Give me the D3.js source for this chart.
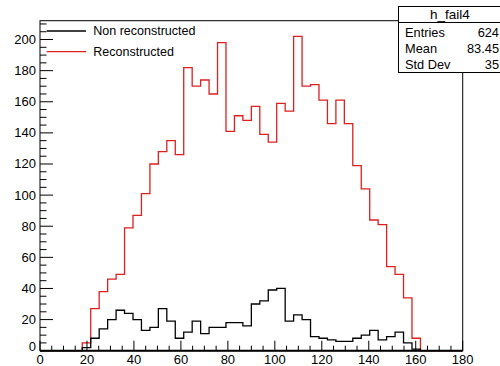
<!DOCTYPE html>
<html>
<head>
<meta charset="utf-8">
<script src="https://cdn.jsdelivr.net/npm/d3@7"></script>
<style>
  html, body { margin: 0; padding: 0; background: #fff; }
  svg { display: block; }
  text { font-family: "Liberation Sans", Arial, Helvetica, sans-serif; fill: #000; }
</style>
</head>
<body>
<svg id="chart" width="500" height="366"></svg>
<script>
// Histogram binning: 50 bins over [0, 180]
const xRange = [0, 180];
const nBins = 50;

// Bin contents
const nonReconstructed = [0, 0, 0, 0, 0, 2, 8, 14, 20, 26,
  24, 20, 13, 15, 27, 19, 8, 12, 19, 11,
  15, 15, 18, 18, 16, 30, 32, 39, 40, 19,
  23, 20, 9, 8, 7, 6, 6, 8, 10, 13,
  7, 9, 12, 5, 1, 0, 0, 0, 0, 0];
const reconstructed = [0, 0, 0, 0, 0, 5, 27, 38, 46, 49,
  79, 87, 101, 120, 128, 135, 126, 182, 170, 174,
  165, 198, 141, 151, 148, 157, 139, 134, 159, 154,
  202, 170, 171, 161, 146, 161, 146, 119, 104, 84,
  81, 54, 49, 34, 8, 0, 0, 0, 0, 0];

// Axis ticks
const xTicks = [0, 20, 40, 60, 80, 100, 120, 140, 160, 180];
const yTicks = [0, 20, 40, 60, 80, 100, 120, 140, 160, 180, 200];

// Legend and statistics box
const legendLabels = ["Non reconstructed", "Reconstructed"];
const legendColors = ["#000000", "#dd2020"];
const statsTitle = "h_fail4";
const statsLabels = ["Entries", "Mean", "Std Dev"];
const statsValues = ["624", "83.45", "35"];

const svg = d3.select("#chart");
const frame = { left: 40, right: 462.7, top: 20.7, bottom: 350.7 };

const yMax = d3.max(reconstructed) * 1.05;
const x = d3.scaleLinear().domain(xRange).range([frame.left, frame.right]);
const y = d3.scaleLinear().domain([0, yMax]).range([frame.bottom, frame.top]);
const binWidth = (xRange[1] - xRange[0]) / nBins;

// Frame
svg.append("rect")
  .attr("x", frame.left).attr("y", frame.top)
  .attr("width", frame.right - frame.left)
  .attr("height", frame.bottom - frame.top)
  .attr("fill", "none").attr("stroke", "#000").attr("stroke-width", 1);

// Step outlines of the histograms
function stepPoints(values) {
  const pts = values.map((v, i) => [xRange[0] + i * binWidth, v]);
  pts.push([xRange[1], values[values.length - 1]]);
  pts.push([xRange[1], 0]);
  return pts;
}
const stepLine = d3.line()
  .x(d => x(d[0])).y(d => y(d[1]))
  .curve(d3.curveStepAfter);

svg.append("path")
  .attr("d", stepLine(stepPoints(reconstructed)))
  .attr("fill", "none").attr("stroke", legendColors[1]).attr("stroke-width", 1.3);
svg.append("path")
  .attr("d", stepLine(stepPoints(nonReconstructed)))
  .attr("fill", "none").attr("stroke", legendColors[0]).attr("stroke-width", 1.3);

// Y axis: major ticks every 20, minor every 5
const yAxis = svg.append("g");
d3.range(0, yMax, 5).forEach(v => {
  const major = v % 20 === 0;
  yAxis.append("line")
    .attr("x1", frame.left).attr("x2", frame.left + (major ? 13 : 6.5))
    .attr("y1", y(v)).attr("y2", y(v))
    .attr("stroke", "#000").attr("stroke-width", 1);
});
yAxis.selectAll("text").data(yTicks).join("text")
  .attr("x", 36).attr("y", d => y(d) - (d === 0 ? 4 : 0))
  .attr("text-anchor", "end").attr("dominant-baseline", "central")
  .attr("font-size", 13).text(d => d);

// X axis: major ticks every 20, minor every 5
const xAxis = svg.append("g");
xAxis.append("line")
  .attr("x1", frame.left).attr("x2", frame.right)
  .attr("y1", frame.bottom).attr("y2", frame.bottom)
  .attr("stroke", "#000").attr("stroke-width", 2);
d3.range(xRange[0], xRange[1] + 0.1, 5).forEach(v => {
  const major = v % 20 === 0;
  xAxis.append("line")
    .attr("x1", x(v)).attr("x2", x(v))
    .attr("y1", frame.bottom).attr("y2", frame.bottom - (major ? 10 : 5))
    .attr("stroke", "#000").attr("stroke-width", 1);
});
xAxis.selectAll("text").data(xTicks).join("text")
  .attr("x", d => x(d)).attr("y", 364)
  .attr("text-anchor", "middle")
  .attr("font-size", 13).text(d => d);

// Legend
const legend = svg.append("g");
legendLabels.forEach((label, i) => {
  const ly = 31 + i * 20.7;
  legend.append("line")
    .attr("x1", 46.7).attr("x2", 86).attr("y1", ly).attr("y2", ly)
    .attr("stroke", legendColors[i]).attr("stroke-width", 1.3);
  legend.append("text")
    .attr("x", 93.3).attr("y", ly)
    .attr("dominant-baseline", "central")
    .attr("font-size", 12.5).text(label);
});

// Statistics box
const stats = svg.append("g");
const box = { x: 398.5, y: 6.5, w: 104, h: 66 };
stats.append("rect")
  .attr("x", box.x).attr("y", box.y).attr("width", box.w).attr("height", box.h)
  .attr("fill", "#fff").attr("stroke", "#000").attr("stroke-width", 1);
stats.append("line")
  .attr("x1", box.x).attr("x2", box.x + box.w)
  .attr("y1", 22.5).attr("y2", 22.5)
  .attr("stroke", "#000").attr("stroke-width", 1);
stats.append("text")
  .attr("x", 450).attr("y", 14.5)
  .attr("text-anchor", "middle").attr("dominant-baseline", "central")
  .attr("font-size", 13.5).text(statsTitle);
const rowY = [32.3, 48.5, 64.3];
statsLabels.forEach((label, i) => {
  stats.append("text")
    .attr("x", 405).attr("y", rowY[i])
    .attr("dominant-baseline", "central")
    .attr("font-size", 12.8).text(label);
  stats.append("text")
    .attr("x", 499).attr("y", rowY[i])
    .attr("text-anchor", "end").attr("dominant-baseline", "central")
    .attr("font-size", 12.8).text(statsValues[i]);
});
</script>
</body>
</html>
